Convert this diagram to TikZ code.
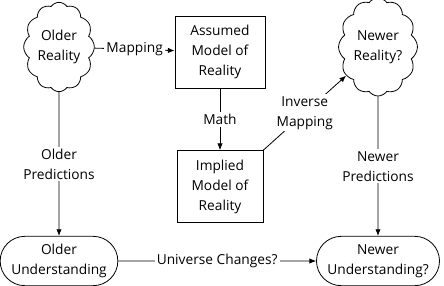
\documentclass[tikz,border=0pt]{standalone}
\usepackage{fontspec}
\setsansfont{Open Sans}
\usetikzlibrary{positioning, arrows.meta, shapes.symbols, shapes.misc}

\begin{document}
\begin{tikzpicture}[
    x=0.75pt, y=-0.75pt,
    >={Latex[length=5pt, width=4pt]},
    font=\sffamily\fontsize{10.3}{15}\selectfont,
    reality/.style={
        cloud, cloud puffs=12, cloud puff arc=110, aspect=0.75,
        draw, line width=0.6pt, inner sep=0pt, align=center,
        minimum width=53pt, minimum height=67pt,
    },
    model/.style={
        rectangle, draw, line width=0.6pt, align=center,
        minimum width=#1, minimum height=54pt,
    },
    understanding/.style={
        rounded rectangle, draw, line width=0.6pt, align=center,
        minimum width=#1, minimum height=37pt,
    },
    link/.style={->, line width=0.6pt},
    tag/.style={fill=white, inner sep=1.5pt, align=center},
]
\useasboundingbox (0,0) rectangle (444,286);

% =============== Realities ===============
\node[reality] (older) at (59, 47) {Older\\Reality};
\node[reality] (newer) at (378, 47) {Newer\\Reality?};

% =============== Models ===============
\node[model=67.5pt] (assumed) at (220, 52) {Assumed\\Model of\\Reality};
\node[model=64.5pt] (implied) at (220, 186.5) {Implied\\Model of\\Reality};

% =============== Understandings ===============
\node[understanding=87pt] (olderund) at (59, 261) {Older\\Understanding};
\node[understanding=90pt] (newerund) at (378, 261) {Newer\\Understanding?};

% =============== Connectors ===============
\draw[link] (older) -- node[tag] {Mapping} (assumed);
\draw[link] (assumed) -- node[tag] {Math} (implied);
\draw[link] (implied.north east) -- node[tag] {Inverse\\Mapping} (newer);
\draw[link] (older) -- node[tag] {Older\\Predictions} (olderund);
\draw[link] (newer) -- node[tag] {Newer\\Predictions} (newerund);
\draw[link] (olderund) -- node[tag] {Universe Changes?} (newerund);

\end{tikzpicture}
\end{document}
